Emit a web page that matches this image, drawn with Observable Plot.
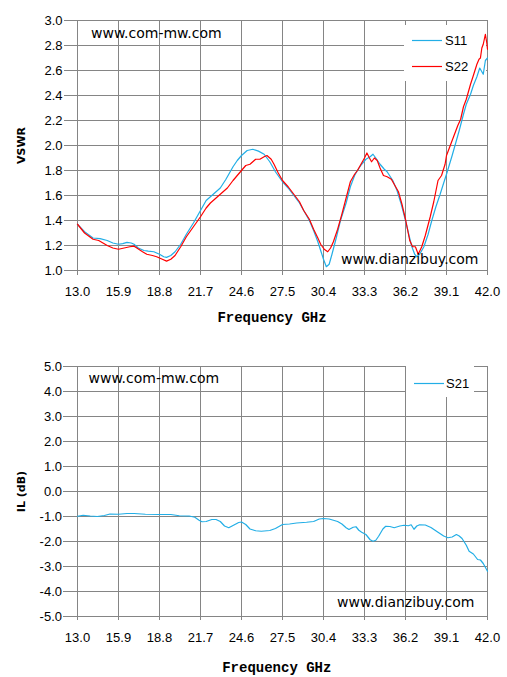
<!DOCTYPE html>
<html><head><meta charset="utf-8">
<script src="https://cdn.jsdelivr.net/npm/d3@7"></script>
<script src="https://cdn.jsdelivr.net/npm/@observablehq/plot@0.6"></script>
<style>
body{margin:0;background:#fff;}
.wrap{position:relative;width:507px;}
</style></head><body>
<div id="top" class="wrap"></div>
<div id="bot" class="wrap"></div>
<script>
// ---- data ----
const xTicks = [13.0, 15.9, 18.8, 21.7, 24.6, 27.5, 30.4, 33.3, 36.2, 39.1, 42.0];
const vswrTicks = [1.0, 1.2, 1.4, 1.6, 1.8, 2.0, 2.2, 2.4, 2.6, 2.8, 3.0];
const ilTicks = [-5, -4, -3, -2, -1, 0, 1, 2, 3, 4, 5];

const s11Freq = [13.0,13.5,14.1,14.6,15.1,15.5,15.9,16.2,16.5,16.8,17.0,17.3,17.7,18.0,18.4,18.8,19.1,19.3,19.6,19.9,20.3,20.7,21.2,21.7,22.1,22.6,23.1,23.5,24.0,24.3,24.6,25.0,25.4,25.8,26.2,26.6,27.0,27.5,27.9,28.3,28.7,29.0,29.4,29.7,30.0,30.2,30.4,30.6,30.8,31.0,31.3,31.6,32.0,32.3,32.6,32.8,33.1,33.4,33.7,33.9,34.1,34.4,34.7,34.9,35.3,35.6,35.9,36.2,36.45,36.65,36.85,37.0,37.2,37.5,37.8,38.06,38.35,38.65,38.9,39.1,39.5,39.8,40.0,40.3,40.5,40.8,41.0,41.25,41.45,41.55,41.7,41.85,42.0];
const s11Vswr = [1.37,1.31,1.26,1.255,1.24,1.22,1.21,1.215,1.225,1.22,1.21,1.18,1.16,1.155,1.15,1.13,1.11,1.105,1.12,1.15,1.21,1.29,1.38,1.48,1.56,1.61,1.66,1.73,1.83,1.88,1.92,1.96,1.97,1.955,1.93,1.87,1.79,1.71,1.66,1.60,1.54,1.48,1.40,1.32,1.23,1.16,1.09,1.03,1.05,1.13,1.26,1.40,1.54,1.67,1.76,1.80,1.85,1.89,1.91,1.93,1.90,1.85,1.81,1.79,1.72,1.64,1.53,1.40,1.28,1.19,1.13,1.11,1.13,1.19,1.29,1.40,1.51,1.61,1.70,1.77,1.92,2.04,2.12,2.25,2.33,2.41,2.48,2.55,2.62,2.60,2.57,2.68,2.70];

const s22Freq = [13.0,13.5,14.1,14.5,15.1,15.5,15.9,16.3,16.7,17.0,17.2,17.6,17.9,18.3,18.6,19.0,19.3,19.6,19.9,20.3,20.7,21.2,21.7,22.1,22.4,22.7,23.1,23.6,24.0,24.3,24.6,24.9,25.2,25.6,25.9,26.2,26.4,26.7,26.9,27.2,27.5,27.9,28.3,28.7,29.0,29.4,29.7,30.0,30.2,30.45,30.7,30.9,31.1,31.4,31.7,32.0,32.3,32.6,32.8,33.1,33.3,33.47,33.65,33.8,34.0,34.2,34.4,34.64,34.9,35.2,35.5,35.7,35.95,36.2,36.5,36.7,36.9,37.1,37.35,37.6,37.95,38.2,38.5,38.75,39.0,39.1,39.3,39.6,39.9,40.1,40.3,40.5,40.8,41.0,41.25,41.4,41.5,41.6,41.7,41.85,41.95,42.0];
const s22Vswr = [1.37,1.30,1.25,1.24,1.20,1.18,1.17,1.18,1.19,1.195,1.18,1.15,1.13,1.12,1.11,1.09,1.075,1.09,1.12,1.19,1.27,1.35,1.43,1.50,1.54,1.57,1.61,1.66,1.72,1.76,1.80,1.84,1.85,1.89,1.89,1.91,1.92,1.89,1.85,1.78,1.72,1.67,1.61,1.55,1.48,1.41,1.33,1.26,1.21,1.17,1.15,1.18,1.23,1.33,1.45,1.58,1.71,1.77,1.80,1.86,1.90,1.94,1.90,1.87,1.90,1.88,1.82,1.76,1.75,1.73,1.67,1.63,1.53,1.41,1.24,1.19,1.19,1.13,1.19,1.28,1.43,1.55,1.72,1.76,1.85,1.92,1.98,2.07,2.16,2.21,2.31,2.37,2.49,2.56,2.65,2.69,2.70,2.78,2.81,2.89,2.82,2.77];

const s21Freq = [13.0,13.4,13.9,14.4,14.9,15.3,15.9,16.5,17.0,17.8,18.8,19.6,20.2,20.9,21.3,21.6,21.8,22.1,22.5,22.8,23.1,23.4,23.7,24.0,24.4,24.6,24.9,25.2,25.6,26.0,26.6,27.0,27.5,28.0,28.5,29.2,29.7,30.1,30.4,30.8,31.1,31.4,31.7,32.0,32.2,32.5,32.7,32.9,33.1,33.4,33.7,33.9,34.1,34.3,34.6,34.8,35.1,35.4,35.8,36.1,36.4,36.6,36.8,37.0,37.2,37.6,38.0,38.5,38.9,39.2,39.5,39.8,40.0,40.2,40.5,40.7,41.0,41.3,41.5,41.7,42.0];
const s21IL = [-0.99,-0.95,-0.98,-1.0,-0.96,-0.9,-0.91,-0.88,-0.88,-0.91,-0.92,-0.92,-0.97,-0.98,-1.03,-1.15,-1.21,-1.2,-1.12,-1.12,-1.2,-1.38,-1.45,-1.36,-1.24,-1.22,-1.32,-1.5,-1.57,-1.59,-1.56,-1.48,-1.32,-1.3,-1.26,-1.23,-1.2,-1.1,-1.08,-1.1,-1.15,-1.2,-1.3,-1.45,-1.52,-1.43,-1.41,-1.55,-1.63,-1.72,-1.93,-1.99,-1.95,-1.79,-1.5,-1.39,-1.4,-1.45,-1.38,-1.35,-1.37,-1.33,-1.51,-1.38,-1.33,-1.34,-1.44,-1.63,-1.78,-1.85,-1.82,-1.72,-1.78,-1.88,-2.15,-2.39,-2.5,-2.72,-2.74,-2.88,-3.19];

const seriesNames = ["S11", "S22", "S21"];
const watermark1 = "www.com-mw.com";
const watermark2 = "www.dianzibuy.com";

// ---- styles ----
const gray = "#858585";
const blue = "#22aee6";
const red = "#ff0000";
const fmt1 = d => d.toFixed(1);

const s11 = s11Freq.map((f, i) => ({f, v: s11Vswr[i]}));
const s22 = s22Freq.map((f, i) => ({f, v: s22Vswr[i]}));
const s21 = s21Freq.map((f, i) => ({f, v: s21IL[i]}));

const baseStyle = {fontFamily: "Liberation Sans", fontSize: "13px", color: "#000", background: "#fff", overflow: "visible"};
const titleFont = {fontFamily: "Liberation Mono", fontWeight: "bold", fontSize: 14, letterSpacing: "0.75px"};
const wmFont = {fontFamily: "DejaVu Sans", fontSize: 14, fill: "#000", lineAnchor: "middle"};

const topChart = Plot.plot({
  width: 507, height: 340,
  marginLeft: 77, marginRight: 20, marginTop: 20, marginBottom: 70,
  style: baseStyle,
  x: {domain: [13, 42]},
  y: {domain: [1, 3]},
  marks: [
    Plot.gridX(xTicks, {stroke: gray, strokeOpacity: 1}),
    Plot.gridY(vswrTicks, {stroke: gray, strokeOpacity: 1}),
    Plot.frame({stroke: gray}),
    Plot.axisX(xTicks, {tickSize: 5, tickPadding: 11.5, stroke: gray, tickFormat: fmt1, label: null, fontSize: 13}),
    Plot.axisY(vswrTicks, {tickSize: 13, tickPadding: 2, stroke: gray, tickFormat: fmt1, label: null, fontSize: 13}),
    Plot.line(s11, {x: "f", y: "v", stroke: blue, strokeWidth: 1.2}),
    Plot.line(s22, {x: "f", y: "v", stroke: red, strokeWidth: 1.2}),
    Plot.text([watermark1], {text: d => d, frameAnchor: "top-left", dx: 13.5, dy: 13, textAnchor: "start", ...wmFont}),
    Plot.text([watermark2], {text: d => d, frameAnchor: "bottom-right", dx: -9, dy: -11, textAnchor: "end", ...wmFont}),
    Plot.text(["Frequency GHz"], {text: d => d, frameAnchor: "bottom", dx: -10.5, dy: 51.7, lineAnchor: "bottom", ...titleFont}),
    Plot.text(["VSWR"], {text: d => d, frameAnchor: "left", dx: -56, rotate: -90, textAnchor: "middle", fontFamily: "DejaVu Sans", fontWeight: "bold", fontSize: 11})
  ]
});

const botChart = Plot.plot({
  width: 507, height: 337,
  marginLeft: 77, marginRight: 20, marginTop: 26, marginBottom: 61,
  style: baseStyle,
  x: {domain: [13, 42]},
  y: {domain: [-5, 5]},
  marks: [
    Plot.gridX(xTicks, {stroke: gray, strokeOpacity: 1}),
    Plot.gridY(ilTicks, {stroke: gray, strokeOpacity: 1}),
    Plot.frame({stroke: gray}),
    Plot.axisX(xTicks, {tickSize: 4, tickPadding: 12, stroke: gray, tickFormat: fmt1, label: null, fontSize: 13}),
    Plot.axisY(ilTicks, {tickSize: 14, tickPadding: 1.5, stroke: gray, tickFormat: fmt1, label: null, fontSize: 13}),
    Plot.line(s21, {x: "f", y: "v", stroke: blue, strokeWidth: 1.2}),
    Plot.text([watermark1], {text: d => d, frameAnchor: "top-left", dx: 11, dy: 12.3, textAnchor: "start", ...wmFont}),
    Plot.text([watermark2], {text: d => d, frameAnchor: "bottom-right", dx: -13, dy: -13.6, textAnchor: "end", ...wmFont}),
    Plot.text(["Frequency GHz"], {text: d => d, frameAnchor: "bottom", dx: -5.7, dy: 55.4, lineAnchor: "bottom", ...titleFont}),
    Plot.text(["IL (dB)"], {text: d => d, frameAnchor: "left", dx: -56, rotate: -90, textAnchor: "middle", fontFamily: "DejaVu Sans", fontWeight: "bold", fontSize: 11})
  ]
});

document.getElementById("top").appendChild(topChart);
document.getElementById("bot").appendChild(botChart);

// legend drawn inside the SVG, beneath the data lines (as in the reference)
function addLegend(svgNode, box, items) {
  const firstLine = svgNode.querySelector('g[aria-label="line"]');
  const g = d3.create("svg:g").attr("class", "legend");
  g.append("rect").attr("x", box.left).attr("y", box.top)
    .attr("width", box.width).attr("height", box.height).attr("fill", "#fff");
  items.forEach(it => {
    g.append("line").attr("x1", box.left + 8).attr("x2", box.left + 38)
      .attr("y1", box.top + it.y + 0.5).attr("y2", box.top + it.y + 0.5)
      .attr("stroke", it.color).attr("stroke-width", 1.2);
    g.append("text").attr("x", box.left + it.tx).attr("y", box.top + it.y)
      .attr("dy", "0.35em").attr("text-anchor", "start")
      .attr("font-family", "Liberation Sans").attr("font-size", 13)
      .attr("fill", "#000").text(it.name);
  });
  svgNode.insertBefore(g.node(), firstLine);
}
addLegend(topChart, {left: 404, top: 25, width: 82, height: 56}, [
  {name: seriesNames[0], color: blue, y: 15, tx: 41},
  {name: seriesNames[1], color: red, y: 41, tx: 41}
]);
addLegend(botChart, {left: 406, top: 26, width: 68, height: 31}, [
  {name: seriesNames[2], color: blue, y: 17, tx: 40}
]);
</script>
</body></html>
